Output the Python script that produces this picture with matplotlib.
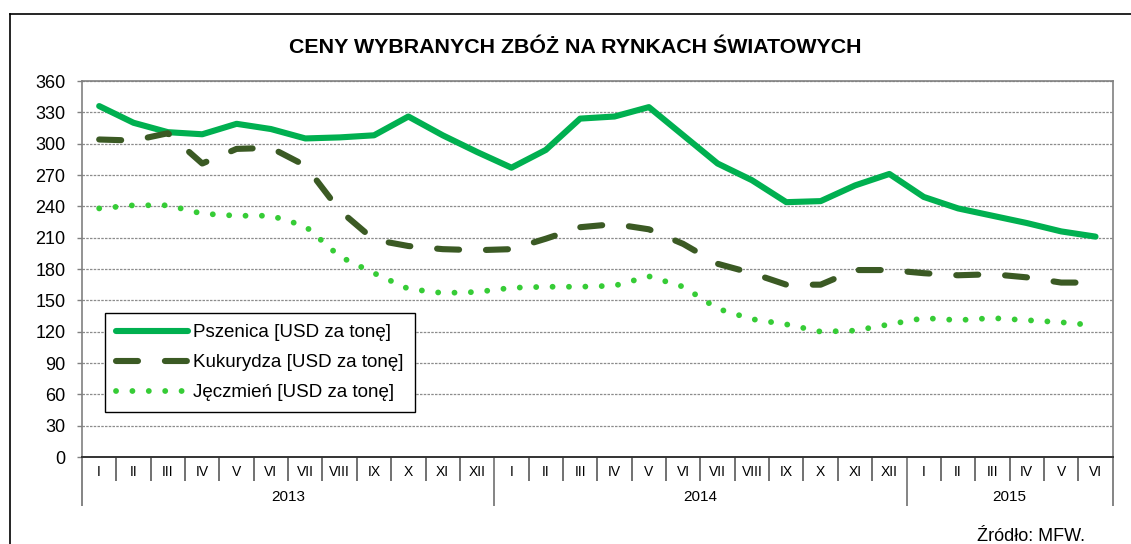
import numpy as np
import matplotlib.pyplot as plt
from matplotlib.lines import Line2D
from matplotlib.transforms import blended_transform_factory

plt.rcParams['font.family'] = ['Liberation Sans', 'DejaVu Sans']

# miesiące i lata na osi kategorii
months = ['I', 'II', 'III', 'IV', 'V', 'VI', 'VII', 'VIII', 'IX', 'X', 'XI', 'XII'] * 2 + \
         ['I', 'II', 'III', 'IV', 'V', 'VI']
years = ['2013', '2014', '2015']
year_len = [12, 12, 6]

# ceny w USD za tonę
pszenica = [336, 320, 311, 309, 319, 314, 305, 306, 308, 326, 308, 292,
            277, 294, 324, 326, 335, 308, 281, 265, 244, 245, 260, 271,
            249, 238, 231, 224, 216, 211]
kukurydza = [304, 303, 310, 281, 295, 296, 279, 236, 208, 202, 199, 198,
             199, 209, 220, 223, 218, 204, 185, 176, 165, 165, 179, 179,
             176, 174, 175, 172, 167, 167]
jeczmien = [238, 241, 241, 233, 231, 231, 221, 192, 176, 161, 157, 158,
            162, 163, 163, 164, 173, 163, 142, 132, 127, 120, 121, 127,
            133, 131, 133, 131, 129, 126]

W, H = 1131, 544
fig = plt.figure(figsize=(W / 100, H / 100), dpi=100)
ax = fig.add_axes([82 / W, 1 - 457 / H, (1112.7 - 82) / W, 376 / H])

x = np.arange(len(months)) + 0.5
ax.plot(x, pszenica, color='#00B050', lw=4.4, solid_capstyle='round',
        solid_joinstyle='round', label='Pszenica [USD za tonę]', zorder=3)
ax.plot(x, kukurydza, color='#3B5A24', lw=4.4, dashes=(3.6, 4.4),
        dash_capstyle='round', label='Kukurydza [USD za tonę]', zorder=3)
ax.plot(x, jeczmien, color='#36CC36', lw=4.2, dashes=(0.01, 2.8),
        dash_capstyle='round', label='Jęczmień [USD za tonę]', zorder=3)

ax.set_xlim(0, len(months))
ax.set_ylim(0, 360)
ax.set_yticks(np.arange(0, 361, 30))
ax.tick_params(axis='y', length=3.6, width=1, color='#808080', pad=8.4,
               labelsize=13)
ax.grid(axis='y', color='#8c8c8c', lw=0.9, ls=(0, (2, 1)))
ax.set_axisbelow(True)
for s in ['top', 'right', 'left']:
    ax.spines[s].set_color('#808080')
    ax.spines[s].set_linewidth(1.2)
ax.spines['bottom'].set_color('#333333')
ax.spines['bottom'].set_linewidth(1.4)

# podziałka osi kategorii: miesiące i lata
bounds = np.concatenate([[0], np.cumsum(year_len)])
ax.set_xticks(bounds)
ax.set_xticks(np.arange(len(months) + 1), minor=True)
ax.tick_params(axis='x', which='major', length=35.5, width=1.2,
               color='#707070', labelbottom=False)
ax.tick_params(axis='x', which='minor', length=17.5, width=1.2,
               color='#595959')
trans = blended_transform_factory(ax.transData, ax.transAxes)
for xi, m in zip(x, months):
    ax.text(xi, -14.5 / 376, m, transform=trans, ha='center', va='center',
            fontsize=10)
for i, y in enumerate(years):
    ax.text((bounds[i] + bounds[i + 1]) / 2, -40 / 376, y, transform=trans,
            ha='center', va='center', fontsize=11)

leg = ax.legend(loc='upper left', bbox_to_anchor=(105 / W, 1 - 313 / H),
                bbox_transform=fig.transFigure, borderaxespad=0,
                fontsize=13.5, handlelength=3.8, handletextpad=0.3,
                labelspacing=0.68, borderpad=0.6, fancybox=False,
                framealpha=1, edgecolor='#000000')
leg.get_frame().set_linewidth(1.0)

fig.text(575.5 / W, 1 - 53.3 / H, 'CENY WYBRANYCH ZBÓŻ NA RYNKACH ŚWIATOWYCH',
         ha='center', va='baseline', fontsize=15.4, fontweight='bold')
fig.text(977 / W, 1 - 541 / H, 'Źródło: MFW.', ha='left', va='baseline',
         fontsize=13)

# ramka wykresu
fig.add_artist(Line2D([9.5 / W, 9.5 / W], [0, 1 - 13.5 / H], color='black',
                      lw=1.2, transform=fig.transFigure))
fig.add_artist(Line2D([9.5 / W, 1], [1 - 13.5 / H, 1 - 13.5 / H],
                      color='black', lw=1.2, transform=fig.transFigure))

fig.savefig('out.png', dpi=100)
